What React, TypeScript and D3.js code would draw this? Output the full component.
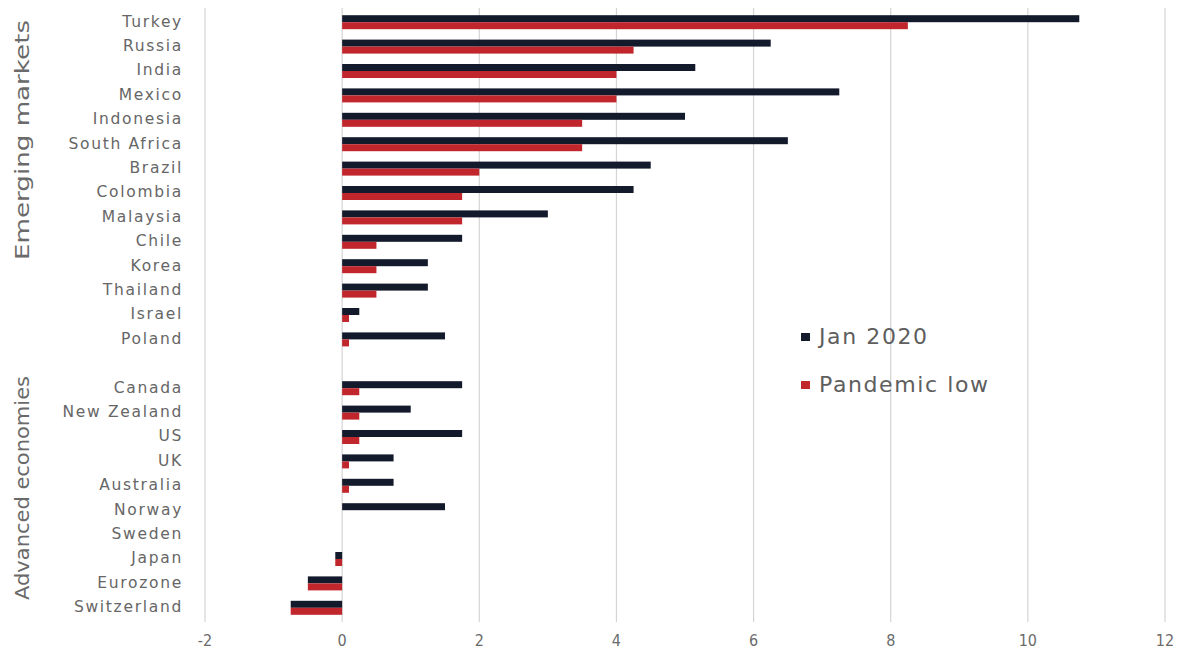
import React from "react";
import * as d3 from "d3";

const countries = [
  "Turkey", "Russia", "India", "Mexico", "Indonesia", "South Africa", "Brazil",
  "Colombia", "Malaysia", "Chile", "Korea", "Thailand", "Israel", "Poland",
  "__gap__",
  "Canada", "New Zealand", "US", "UK", "Australia", "Norway", "Sweden",
  "Japan", "Eurozone", "Switzerland",
];
const jan2020 = [
  10.75, 6.25, 5.15, 7.25, 5.0, 6.5, 4.5, 4.25, 3.0, 1.75, 1.25, 1.25, 0.25, 1.5,
  NaN,
  1.75, 1.0, 1.75, 0.75, 0.75, 1.5, 0, -0.1, -0.5, -0.75,
];
const pandemicLow = [
  8.25, 4.25, 4.0, 4.0, 3.5, 3.5, 2.0, 1.75, 1.75, 0.5, 0.5, 0.5, 0.1, 0.1,
  NaN,
  0.25, 0.25, 0.25, 0.1, 0.1, 0, 0, -0.1, -0.5, -0.75,
];
const xTicks = [-2, 0, 2, 4, 6, 8, 10, 12];
const seriesNames = ["Jan 2020", "Pandemic low"];
const groupLabels = ["Emerging markets", "Advanced economies"];

const NAVY = "#131a2c";
const RED = "#c0262c";

export default function App() {
  const W = 1179, H = 654;
  const x = d3.scaleLinear().domain([-2, 12]).range([205, 1165]);
  const y = d3.scaleBand<string>().domain(countries).range([10, 620]).paddingInner(0).paddingOuter(0);
  const sub = d3.scaleBand<string>().domain(seriesNames).range([0, 14]);
  const series = [jan2020, pandemicLow];
  const colors = [NAVY, RED];
  const grid = "#d4d4d4";
  return (
    <svg width={W} height={H} style={{ position: "absolute", left: 0, top: 0, background: "#fff" }}>
      {xTicks.map((t) => (
        <line key={"g" + t} x1={x(t)} x2={x(t)} y1={8} y2={622} stroke={grid} strokeWidth={1.2} />
      ))}
      {xTicks.map((t) => (
        <text key={"t" + t} x={x(t)} y={646} textAnchor="middle" fontSize={16}
          fontFamily="'Liberation Sans Narrow', 'DejaVu Sans Condensed', Roboto, sans-serif" fill="#6b6b6b">
          {t}
        </text>
      ))}
      {countries.map((c, i) => {
        if (c === "__gap__") return null;
        const cy = (y(c) as number) + y.bandwidth() / 2;
        return (
          <g key={c}>
            {series.map((s, j) => {
              const v = s[i];
              const x0 = x(Math.min(0, v));
              const x1 = x(Math.max(0, v));
              return (
                <rect key={j} x={x0} width={Math.max(0, x1 - x0)}
                  y={cy - 7 + (sub(seriesNames[j]) as number)} height={sub.bandwidth()}
                  fill={colors[j]} />
              );
            })}
            <text x={183} y={cy - 1} dy="0.35em" textAnchor="end" fontSize={15.5}
              fontFamily="'DejaVu Sans', sans-serif" letterSpacing={1.7} fill="#666">
              {c}
            </text>
          </g>
        );
      })}
      <text transform="translate(29,140) rotate(-90)" textAnchor="middle" fontSize={20}
        fontFamily="'DejaVu Sans', sans-serif" fill="#6a6a6a" textLength={240} lengthAdjust="spacingAndGlyphs">
        {groupLabels[0]}
      </text>
      <text transform="translate(29,488) rotate(-90)" textAnchor="middle" fontSize={20}
        fontFamily="'DejaVu Sans', sans-serif" fill="#6a6a6a" textLength={224} lengthAdjust="spacingAndGlyphs">
        {groupLabels[1]}
      </text>
      {seriesNames.map((n, i) => (
        <g key={n} transform={`translate(801, ${336 + i * 48})`}>
          <rect x={0} y={-3} width={9} height={8} fill={colors[i]} />
          <text x={18} y={0} dy="0.35em" fontSize={22} letterSpacing={1.6}
            fontFamily="'DejaVu Sans', sans-serif" fill="#5e5e5e">
            {n}
          </text>
        </g>
      ))}
    </svg>
  );
}
